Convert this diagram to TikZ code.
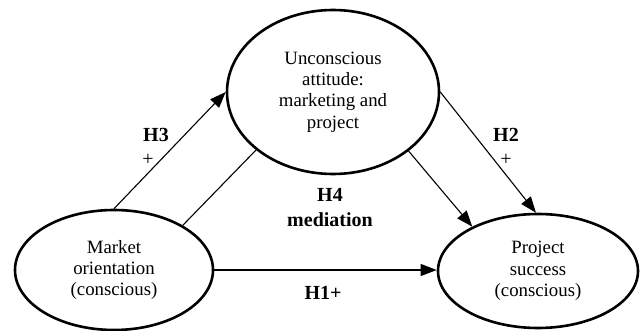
\documentclass[tikz,border=0pt]{standalone}
\usepackage{fontspec}
\setmainfont{Liberation Serif}
\usetikzlibrary{shapes.geometric,arrows.meta}
\begin{document}
\begin{tikzpicture}[x=1pt,y=-1pt,
  oval/.style={draw, line width=2.6pt, ellipse, inner sep=0pt, align=center, font=\fontsize{18.8}{21.3}\selectfont},
  conn/.style={line width=1.1pt},
  arr/.style={conn, -{Triangle[length=16pt,width=12pt]}},
  lab/.style={font=\fontsize{20}{24}\selectfont\bfseries, inner sep=0pt},
  plus/.style={font=\fontsize{20}{24}\selectfont, inner sep=0pt}]
\useasboundingbox (0,0) rectangle (644,331);
\node[oval, minimum width=212pt, minimum height=164pt] (T) at (333,92) {Unconscious\\attitude:\\marketing and\\project};
\node[oval, minimum width=198pt, minimum height=120pt] (L) at (114,270) {Market\\orientation\\(conscious)};
\node[oval, minimum width=200pt, minimum height=114pt] (R) at (538,271) {Project\\success\\(conscious)};
\draw[arr] (L.north) -- (T.west);
\draw[conn] (L.33) -- (T.217);
\draw[arr] (T.-38) -- (R.146);
\draw[arr] (T.east) -- (R.92);
\draw[arr] (L.east) -- (L.east -| R.west);
\node[lab] (h3) at (156,135) {H3};
\node[plus] (p3) at (148,160) {+};
\node[lab] (h2) at (506,135) {H2};
\node[plus] (p2) at (506,160) {+};
\node[lab] (h4) at (330,195) {H4};
\node[lab] (med) at (330,220) {mediation};
\node[lab] (h1) at (323,293) {H1+};
\end{tikzpicture}
\end{document}
